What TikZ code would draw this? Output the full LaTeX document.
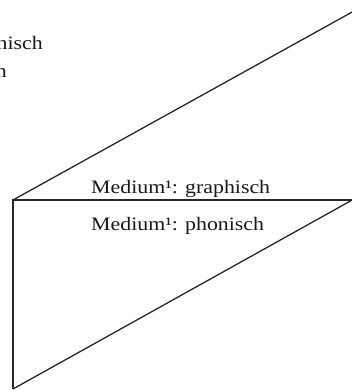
\documentclass[tikz,border=0pt]{standalone}
\usepackage{fontspec}
\setmainfont{Liberation Serif}
\begin{document}
\begin{tikzpicture}[x=1pt,y=1pt,
  edge/.style={draw=black!85,line width=1.3pt},
  lbl/.style={inner sep=0pt,font=\fontsize{19}{22}\selectfont,text=black!90,xscale=1.15}]
\useasboundingbox (0,0) rectangle (352,390);
\clip (0,0) rectangle (352,390);
\coordinate (A) at (13,190);
\coordinate (B) at (13,1);
\coordinate (C) at (354,190);
\coordinate (D) at (354,379);
\coordinate (E) at (354,191);
\draw[edge] (B) -- (A) -- (C);
\draw[edge] (A) -- (D);
\draw[edge] (B) -- (E);
\node[lbl,anchor=base west] (g) at (91,196) {Medium¹: graphisch};
\node[lbl,anchor=base west] (p) at (91,159) {Medium¹: phonisch};
\node[lbl,anchor=base east] (t1) at (43,340) {phonisch};
\node[lbl,anchor=base east] (t2) at (7,312) {n};
\end{tikzpicture}
\end{document}
